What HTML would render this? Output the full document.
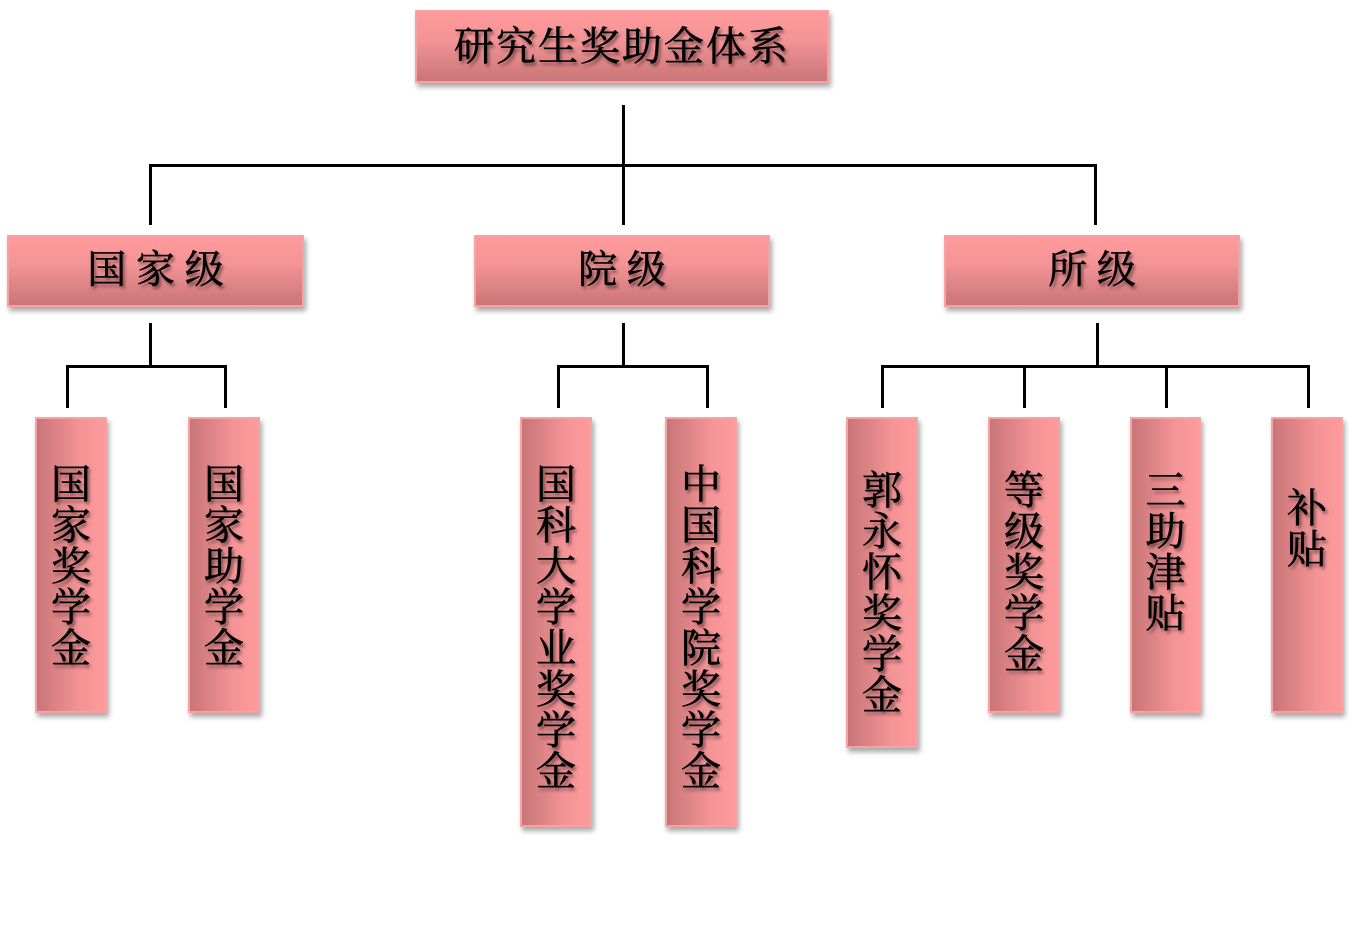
<!DOCTYPE html>
<html><head><meta charset="utf-8"><style>
body{margin:0;width:1353px;height:935px;background:#fff;position:relative;overflow:hidden;font-family:"Liberation Serif","Noto Serif CJK SC",serif}
.h{position:absolute;background:linear-gradient(#fe9a9c,#f49496 40%,#c97577);border:2px solid #f7a3a5;box-sizing:border-box;box-shadow:2px 4px 5px rgba(0,0,0,.35);color:#000;text-align:center;text-shadow:2px 3px 3px rgba(0,0,0,.55);-webkit-text-stroke:0.6px #000}
.v{position:absolute;background:linear-gradient(90deg,#c97577,#f49496 65%,#fe9a9c);border:2px solid #f7a3a5;box-sizing:border-box;box-shadow:2px 4px 5px rgba(0,0,0,.35)}
.t{position:absolute;left:0;right:0;text-align:center;font-size:40px;line-height:41px;text-shadow:2px 3px 3px rgba(0,0,0,.55);-webkit-text-stroke:0.6px #000}
.l{position:absolute;background:#000}
</style></head><body>
<div class="h" style="left:415px;top:10px;width:414px;height:73px;font-size:40px;line-height:70px;letter-spacing:2px">研究生奖助金体系</div>
<div class="h" style="left:7px;top:235px;width:297px;height:72px;font-size:39px;line-height:68px">国 家 级</div>
<div class="h" style="left:474px;top:235px;width:296px;height:72px;font-size:39px;line-height:68px">院 级</div>
<div class="h" style="left:944px;top:235px;width:296px;height:72px;font-size:39px;line-height:68px">所 级</div>

<div class="l" style="left:622px;top:105px;width:3px;height:120px"></div>
<div class="l" style="left:149px;top:164px;width:948px;height:3px"></div>
<div class="l" style="left:149px;top:164px;width:3px;height:61px"></div>
<div class="l" style="left:1094px;top:164px;width:3px;height:61px"></div>

<div class="l" style="left:149px;top:323px;width:3px;height:44px"></div>
<div class="l" style="left:66px;top:365px;width:161px;height:3px"></div>
<div class="l" style="left:66px;top:365px;width:3px;height:43px"></div>
<div class="l" style="left:224px;top:365px;width:3px;height:43px"></div>

<div class="l" style="left:622px;top:323px;width:3px;height:44px"></div>
<div class="l" style="left:557px;top:365px;width:152px;height:3px"></div>
<div class="l" style="left:557px;top:365px;width:3px;height:43px"></div>
<div class="l" style="left:706px;top:365px;width:3px;height:43px"></div>

<div class="l" style="left:1096px;top:323px;width:3px;height:44px"></div>
<div class="l" style="left:881px;top:365px;width:429px;height:3px"></div>
<div class="l" style="left:881px;top:365px;width:3px;height:43px"></div>
<div class="l" style="left:1023px;top:365px;width:3px;height:43px"></div>
<div class="l" style="left:1165px;top:365px;width:3px;height:43px"></div>
<div class="l" style="left:1307px;top:365px;width:3px;height:43px"></div>

<div class="v" style="left:35px;top:417px;width:72px;height:296px"><div class="t" style="top:45px">国<br>家<br>奖<br>学<br>金</div></div>
<div class="v" style="left:188px;top:417px;width:72px;height:296px"><div class="t" style="top:45px">国<br>家<br>助<br>学<br>金</div></div>
<div class="v" style="left:520px;top:417px;width:72px;height:410px"><div class="t" style="top:45px">国<br>科<br>大<br>学<br>业<br>奖<br>学<br>金</div></div>
<div class="v" style="left:665px;top:417px;width:72px;height:410px"><div class="t" style="top:45px">中<br>国<br>科<br>学<br>院<br>奖<br>学<br>金</div></div>
<div class="v" style="left:846px;top:417px;width:72px;height:331px"><div class="t" style="top:51px">郭<br>永<br>怀<br>奖<br>学<br>金</div></div>
<div class="v" style="left:988px;top:417px;width:72px;height:296px"><div class="t" style="top:51px">等<br>级<br>奖<br>学<br>金</div></div>
<div class="v" style="left:1130px;top:417px;width:71px;height:296px"><div class="t" style="top:51px">三<br>助<br>津<br>贴</div></div>
<div class="v" style="left:1271px;top:417px;width:72px;height:296px"><div class="t" style="top:69px">补<br>贴</div></div>
</body></html>
